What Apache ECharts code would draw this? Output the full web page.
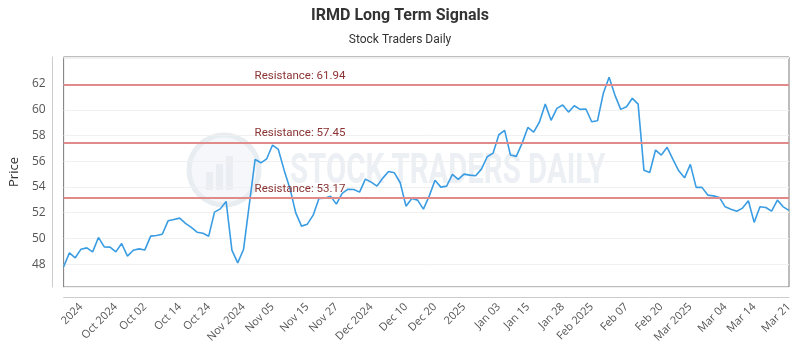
<!DOCTYPE html>
<html>
<head>
<meta charset="utf-8">
<style>
  html, body { margin: 0; padding: 0; background: #ffffff; }
  #chart { width: 800px; height: 350px; }
</style>
<script src="https://cdn.jsdelivr.net/npm/echarts@6/dist/echarts.min.js"></script>
</head>
<body>
<div id="chart"></div>
<script>
// ---- data ----
const prices = [
  47.80, 48.88, 48.50, 49.17, 49.27, 48.96, 50.08, 49.35, 49.33, 48.96,
  49.61, 48.63, 49.09, 49.19, 49.11, 50.18, 50.23, 50.33, 51.37, 51.48,
  51.58, 51.17, 50.86, 50.49, 50.40, 50.18, 52.05, 52.30, 52.88, 49.09,
  48.10, 49.14, 52.65, 56.14, 55.88, 56.19, 57.26, 56.92, 55.31, 53.89,
  51.99, 50.96, 51.11, 51.81, 53.11, 53.13, 53.29, 52.67, 53.50, 53.83,
  53.81, 53.60, 54.61, 54.38, 54.07, 54.69, 55.21, 55.10, 54.33, 52.51,
  53.11, 52.98, 52.28, 53.29, 54.53, 53.99, 54.07, 54.98, 54.59, 55.00,
  54.92, 54.87, 55.39, 56.35, 56.63, 58.06, 58.40, 56.48, 56.38, 57.39,
  58.63, 58.27, 59.05, 60.44, 59.18, 60.11, 60.37, 59.82, 60.31, 60.03,
  60.06, 59.07, 59.15, 61.28, 62.52, 61.14, 60.03, 60.23, 60.89, 60.44,
  55.31, 55.13, 56.87, 56.48, 57.08, 56.14, 55.26, 54.71, 55.76, 53.97,
  53.97, 53.37, 53.31, 53.19, 52.46, 52.28, 52.12, 52.36, 52.93, 51.25,
  52.46, 52.41, 52.12, 52.98, 52.46, 52.18
];
const tickLabels = [
  '2024', 'Oct 2024', 'Oct 02', 'Oct 14', 'Oct 24', 'Nov 2024', 'Nov 05',
  'Nov 15', 'Nov 27', 'Dec 2024', 'Dec 10', 'Dec 20', '2025', 'Jan 03',
  'Jan 15', 'Jan 28', 'Feb 2025', 'Feb 07', 'Feb 20', 'Mar 2025', 'Mar 04',
  'Mar 14', 'Mar 21'
];
const tickIndices = [
  3, 9, 14, 20, 25, 31, 36, 42, 47, 53, 59, 64, 69, 75, 80, 86, 91, 97,
  103, 108, 114, 119, 125
];
const resistanceLevels = [61.94, 57.45, 53.17];

const titleText = 'IRMD Long Term Signals';
const subtitleText = 'Stock Traders Daily';
const yAxisName = 'Price';

// ---- chart ----
const categories = prices.map((_, i) => String(i));
const chart = echarts.init(document.getElementById('chart'), null, { renderer: 'canvas' });

const option = {
  animation: false,
  backgroundColor: '#ffffff',
  textStyle: { fontFamily: 'Roboto' },
  title: {
    text: titleText,
    subtext: subtitleText,
    left: 'center',
    top: 3,
    itemGap: 10,
    textStyle: { fontFamily: 'Roboto', fontSize: 16, fontWeight: 'bold', color: '#333333' },
    subtextStyle: { fontFamily: 'Roboto', fontSize: 12, color: '#333333' }
  },
  graphic: [
    {
      type: 'group',
      silent: true,
      z: 0,
      children: [
        { type: 'circle', shape: { cx: 224, cy: 170, r: 35 },
          style: { fill: '#f5f7fa', stroke: '#e8edf2', lineWidth: 5 } },
        { type: 'rect', shape: { x: 206, y: 172, width: 7, height: 18 }, style: { fill: '#eaeef2' } },
        { type: 'rect', shape: { x: 216, y: 164, width: 7, height: 26 }, style: { fill: '#eaeef2' } },
        { type: 'rect', shape: { x: 226, y: 156, width: 7, height: 34 }, style: { fill: '#eaeef2' } },
        { type: 'text', x: 290, y: 172, scaleX: 0.7,
          style: { text: 'STOCK TRADERS DAILY', fontFamily: 'Roboto', fontSize: 42,
                   fontWeight: 'bold', fill: '#eceff3', verticalAlign: 'middle', align: 'left' } }
      ]
    }
  ],
  grid: {
    left: 61,
    right: 11,
    top: 57,
    bottom: 63,
    show: true,
    borderColor: '#7a7a7a',
    borderWidth: 1,
    backgroundColor: 'transparent'
  },
  xAxis: {
    type: 'category',
    data: categories,
    boundaryGap: false,
    offset: 10,
    axisLine: { show: true, lineStyle: { color: '#cccccc', width: 1 } },
    axisTick: { show: false },
    splitLine: { show: false },
    axisLabel: {
      rotate: 45,
      margin: 8,
      fontSize: 11,
      color: '#555555',
      fontFamily: 'Open Sans',
      interval: (i) => tickIndices.indexOf(i) >= 0,
      formatter: (v, i) => {
        const k = tickIndices.indexOf(i);
        return k >= 0 ? tickLabels[k] : '';
      }
    }
  },
  yAxis: {
    type: 'value',
    min: 46.23,
    max: 64.1,
    splitNumber: 9,
    offset: 11,
    name: yAxisName,
    nameLocation: 'middle',
    nameGap: 30,
    nameTextStyle: { fontSize: 13, color: '#333333', fontFamily: 'Open Sans' },
    axisLine: { show: true, lineStyle: { color: '#cccccc', width: 1 } },
    axisTick: { show: false },
    axisLabel: {
      margin: 7,
      fontSize: 12,
      color: '#555555',
      fontFamily: 'Open Sans',
      showMinLabel: false,
      showMaxLabel: false,
      formatter: (v) => (Math.abs(v - Math.round(v)) < 1e-6 && v <= 62.5) ? String(Math.round(v)) : ''
    },
    splitLine: { show: true, lineStyle: { color: '#f0f0f0', width: 1 } }
  },
  series: [
    {
      type: 'line',
      data: prices,
      showSymbol: false,
      symbol: 'none',
      lineStyle: { color: '#3a9de3', width: 1.6 },
      itemStyle: { color: '#3a9de3' },
      z: 3,
      markLine: {
        silent: true,
        symbol: ['none', 'none'],
        animation: false,
        lineStyle: { color: '#e08a8a', width: 2, type: 'solid' },
        label: {
          show: true,
          position: 'insideStartTop',
          distance: [191, 3],
          formatter: (p) => 'Resistance: ' + p.value.toFixed(2),
          color: '#8b3333',
          fontSize: 11.5,
          fontFamily: 'Roboto'
        },
        emphasis: { disabled: true },
        data: resistanceLevels.map((v) => ({ yAxis: v }))
      }
    }
  ]
};
chart.setOption(option);
</script>
</body>
</html>
